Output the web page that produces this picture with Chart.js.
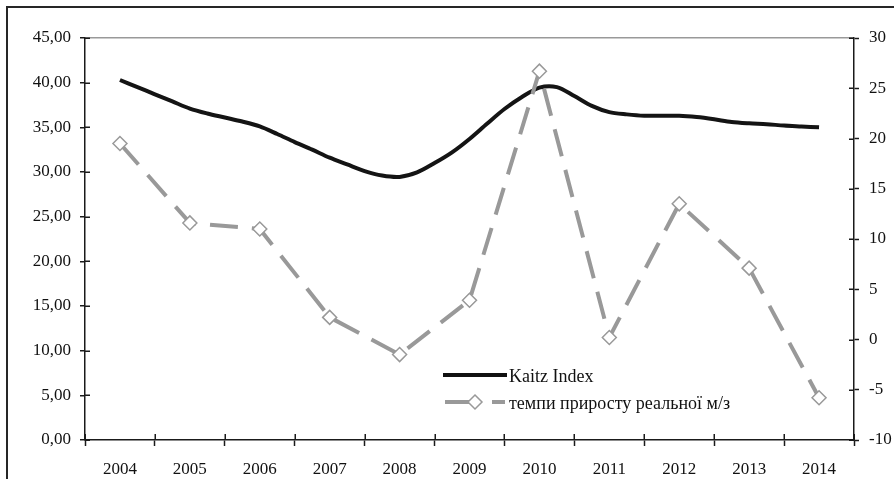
<!DOCTYPE html>
<html>
<head>
<meta charset="utf-8">
<script src="https://cdn.jsdelivr.net/npm/chart.js@4.4.1/dist/chart.umd.min.js"></script>
<style>
  html, body { margin: 0; padding: 0; background: #fff; }
  #wrap { position: relative; width: 894px; height: 479px; overflow: hidden; }
  #frame { position: absolute; left: 6px; top: 6px; width: 920px; height: 520px; border-left: 2px solid #262626; border-top: 2px solid #262626; }
  canvas { position: absolute; left: 0; top: 0; }
</style>
</head>
<body>
<div id="wrap">
  <div id="frame"></div>
  <canvas id="kaitzChart" width="894" height="479"></canvas>
</div>
<script>
// categories
const years = ['2004', '2005', '2006', '2007', '2008', '2009', '2010', '2011', '2012', '2013', '2014'];

// real wage growth, % (right axis)
const wageGrowth = [19.5, 11.6, 11.0, 2.2, -1.5, 3.9, 26.7, 0.2, 13.5, 7.1, -5.8];

// Kaitz index, quarterly (left axis)
const kaitzQuarters = [
    2004, 2004.25, 2004.5, 2004.75, 2005, 2005.25, 2005.5, 2005.75,
    2006, 2006.25, 2006.5, 2006.75, 2007, 2007.25, 2007.5, 2007.75,
    2008, 2008.25, 2008.5, 2008.75, 2009, 2009.25, 2009.5, 2009.75,
    2010, 2010.25, 2010.5, 2010.75, 2011, 2011.25, 2011.5, 2011.75,
    2012, 2012.25, 2012.5, 2012.75, 2013, 2013.25, 2013.5, 2013.75, 2014
];
const kaitzValues = [
    40.3, 39.5, 38.7, 37.9, 37.1, 36.55, 36.1, 35.65,
    35.1, 34.25, 33.35, 32.5, 31.6, 30.85, 30.1, 29.6,
    29.45, 29.95, 31.0, 32.2, 33.7, 35.4, 37.05, 38.4,
    39.45, 39.5, 38.5, 37.4, 36.7, 36.45, 36.3, 36.3,
    36.3, 36.15, 35.9, 35.6, 35.45, 35.35, 35.2, 35.1, 35.0
];

// left axis ticks 0..45, right axis ticks -10..30
const leftTicks = { min: 0, max: 45, step: 5 };
const rightTicks = { min: -10, max: 30, step: 5 };

const FONT = 'Liberation Serif';
const AXIS = '#1a1a1a';
const GREY = '#999999';

const innerTicks = {
    id: 'innerTicks',
    afterDraw(chart) {
        const { ctx, chartArea, scales } = chart;
        ctx.save();
        ctx.strokeStyle = AXIS;
        ctx.lineWidth = 1.5;
        ctx.beginPath();
        scales.y.ticks.forEach(t => {
            const py = Math.round(scales.y.getPixelForValue(t.value)) + 0.25;
            ctx.moveTo(chartArea.left, py); ctx.lineTo(chartArea.left + 5, py);
        });
        scales.y2.ticks.forEach(t => {
            const py = Math.round(scales.y2.getPixelForValue(t.value)) + 0.25;
            ctx.moveTo(chartArea.right - 5, py); ctx.lineTo(chartArea.right, py);
        });
        for (let i = 0; i <= years.length; i++) {
            const px = Math.round(scales.x.getPixelForValue(i - 0.5)) + 0.25;
            ctx.moveTo(px, chartArea.bottom - 6); ctx.lineTo(px, chartArea.bottom);
        }
        ctx.stroke();
        ctx.restore();
    }
};

const insideLegend = {
    id: 'insideLegend',
    afterDraw(chart) {
        const ctx = chart.ctx;
        ctx.save();
        ctx.font = '18px "' + FONT + '"';
        ctx.fillStyle = '#111';
        ctx.textBaseline = 'alphabetic';

        ctx.strokeStyle = '#111';
        ctx.lineWidth = 4;
        ctx.beginPath(); ctx.moveTo(443, 375); ctx.lineTo(507, 375); ctx.stroke();
        ctx.fillText('Kaitz Index', 509, 382);

        ctx.strokeStyle = GREY;
        ctx.lineWidth = 4;
        ctx.beginPath(); ctx.moveTo(445, 402); ctx.lineTo(470, 402); ctx.stroke();
        ctx.beginPath(); ctx.moveTo(492, 402); ctx.lineTo(505, 402); ctx.stroke();
        ctx.fillStyle = '#fff';
        ctx.lineWidth = 1.5;
        ctx.beginPath();
        ctx.moveTo(475, 395); ctx.lineTo(482, 402); ctx.lineTo(475, 409); ctx.lineTo(468, 402); ctx.closePath();
        ctx.fill(); ctx.stroke();
        ctx.fillStyle = '#111';
        ctx.fillText('темпи приросту реальної м/з', 509, 409);
        ctx.restore();
    }
};

new Chart(document.getElementById('kaitzChart'), {
    type: 'line',
    data: {
        labels: years,
        datasets: [
            {
                label: 'темпи приросту реальної м/з',
                data: wageGrowth,
                xAxisID: 'x',
                yAxisID: 'y2',
                borderColor: GREY,
                borderWidth: 4,
                borderDash: [28, 14],
                tension: 0,
                pointStyle: 'rectRot',
                pointRadius: 7,
                pointBackgroundColor: '#fff',
                pointBorderColor: GREY,
                pointBorderWidth: 1.5
            },
            {
                label: 'Kaitz Index',
                data: kaitzQuarters.map((q, i) => ({ x: q, y: kaitzValues[i] })),
                xAxisID: 'xk',
                yAxisID: 'y',
                borderColor: '#141414',
                borderWidth: 4,
                tension: 0.3,
                pointRadius: 0
            }
        ]
    },
    options: {
        responsive: false,
        animation: false,
        devicePixelRatio: 1,
        layout: { padding: { top: 38, left: 0, right: 0, bottom: 0 } },
        plugins: { legend: { display: false }, tooltip: { enabled: false } },
        scales: {
            x: {
                type: 'category',
                offset: true,
                position: 'bottom',
                grid: { offset: true, drawOnChartArea: false, tickLength: 6, tickColor: AXIS, tickWidth: 1.5 },
                border: { display: true, color: AXIS, width: 1.5 },
                ticks: { color: '#111', font: { family: FONT, size: 17 }, padding: 13, maxRotation: 0 },
                afterFit: s => { s.height = 39; }
            },
            xk: {
                type: 'linear',
                display: false,
                min: 2003.5,
                max: 2014.5
            },
            y: {
                position: 'left',
                min: leftTicks.min,
                max: leftTicks.max,
                ticks: {
                    stepSize: leftTicks.step,
                    color: '#111',
                    font: { family: FONT, size: 17 },
                    padding: 9,
                    callback: v => v.toFixed(2).replace('.', ',')
                },
                grid: {
                    color: c => (c.tick && c.tick.value === leftTicks.max) ? GREY : 'rgba(0,0,0,0)',
                    lineWidth: 1.5,
                    tickColor: AXIS,
                    tickWidth: 1.5,
                    tickLength: 5
                },
                border: { display: true, color: AXIS, width: 1.5 },
                afterFit: s => { s.width = 85; }
            },
            y2: {
                position: 'right',
                min: rightTicks.min,
                max: rightTicks.max,
                ticks: {
                    stepSize: rightTicks.step,
                    color: '#111',
                    font: { family: FONT, size: 17 },
                    padding: 10
                },
                grid: { drawOnChartArea: false, tickColor: AXIS, tickWidth: 1.5, tickLength: 5 },
                border: { display: true, color: AXIS, width: 1.5 },
                afterFit: s => { s.width = 40; }
            }
        }
    },
    plugins: [innerTicks, insideLegend]
});
</script>
</body>
</html>
